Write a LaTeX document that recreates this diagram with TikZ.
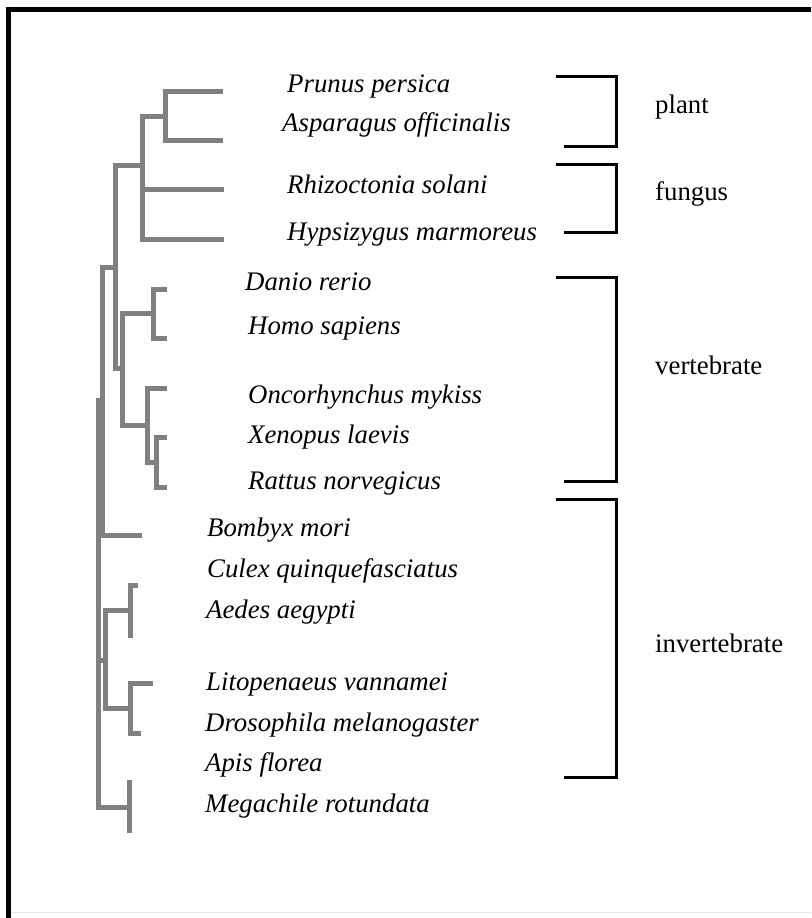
\documentclass[tikz,border=0pt]{standalone}
\usepackage{fontspec}
\setmainfont{Liberation Serif}
\usepackage{xcolor}
\usepackage{tikz}
\usetikzlibrary{positioning, calc}
\definecolor{treegray}{RGB}{128, 128, 128}
\definecolor{edgegray}{RGB}{232, 232, 232}

\tikzset{
  branch/.style={treegray, line width=5pt},
  bracket/.style={black, line width=3pt},
  taxon/.style={anchor=base west, inner sep=0pt,
                font=\fontsize{26.8}{30}\selectfont\itshape},
  group/.style={anchor=base west, inner sep=0pt,
                font=\fontsize{26.8}{30}\selectfont},
}

\begin{document}
\begin{tikzpicture}[x=1pt, y=-1pt]
    \useasboundingbox (0,0) rectangle (811,918);
    % frame
    \draw[line width=4.5pt] (8.5,918) -- (8.5,9.7) -- (811,9.7);
    \draw[edgegray, line width=1pt] (11,912) -- (811,912);

    % leaves: name / tip x / tip y / label x / label baseline / text
    \foreach \nm/\tx/\ty/\lx/\ly/\txt in {
        prunus/223/91/287/92/Prunus persica,
        asparagus/223/140/282/131/Asparagus officinalis,
        rhizoctonia/224/189/287/193/Rhizoctonia solani,
        hypsizygus/224/239/287/240/Hypsizygus marmoreus,
        danio/167/289/245/290/Danio rerio,
        homo/167/338/248/334/Homo sapiens,
        oncorhynchus/167/388/248/403/Oncorhynchus mykiss,
        xenopus/167/437/248/443/Xenopus laevis,
        rattus/167/487/248/489/Rattus norvegicus,
        bombyx/142/535/207/536/Bombyx mori,
        culex/138/585/207/577/Culex quinquefasciatus,
        aedes/133/635/206/618/Aedes aegypti,
        litopenaeus/153/683/206/690/Litopenaeus vannamei,
        drosophila/141/733/205/731/Drosophila melanogaster,
        apis/129/780/205/771/Apis florea,
        megachile/129/833/205/812/Megachile rotundata}
    {
        \coordinate (\nm) at (\tx,\ty);
        \node[taxon] (\nm-lbl) at (\lx,\ly) {\txt};
    }

    % inner nodes of the tree
    \coordinate (nplant) at (165,116);
    \coordinate (nfungi) at (142,165);
    \coordinate (ndh)    at (153,313);
    \coordinate (nxr)    at (156,462);
    \coordinate (noxr)   at (147,425);
    \coordinate (nvert)  at (122,368);
    \coordinate (nupper) at (115,267);
    \coordinate (nbomb)  at (102,400);
    \coordinate (nca)    at (130,610);
    \coordinate (nld)    at (130,708);
    \coordinate (ninsec) at (105,660);
    \coordinate (nam)    at (129,807);
    \coordinate (root)   at (98,603);

    \foreach \a/\b in {nplant/prunus, nplant/asparagus,
                       nfungi/nplant, nfungi/rhizoctonia, nfungi/hypsizygus,
                       ndh/danio, ndh/homo, nxr/xenopus, nxr/rattus,
                       noxr/oncorhynchus, noxr/nxr, nvert/ndh, nvert/noxr,
                       nupper/nfungi, nupper/nvert, nbomb/nupper, nbomb/bombyx,
                       nca/culex, nca/aedes, nld/litopenaeus, nld/drosophila,
                       ninsec/nca, ninsec/nld, nam/apis, nam/megachile,
                       root/nbomb, root/ninsec, root/nam}
        \draw[branch] (\a) |- (\b);

    % groups: name / top / bottom / label baseline
    \foreach \nm/\yt/\yb/\ly in {plant/76/146/113, fungus/164/232/200,
                                 vertebrate/277/481/374, invertebrate/499/777/652}
    {
        \draw[bracket] (556,\yt) -- (616,\yt) -- (616,\yb) -- (564,\yb);
        \node[group] (\nm) at (655,\ly) {\nm};
    }
\end{tikzpicture}
\end{document}
